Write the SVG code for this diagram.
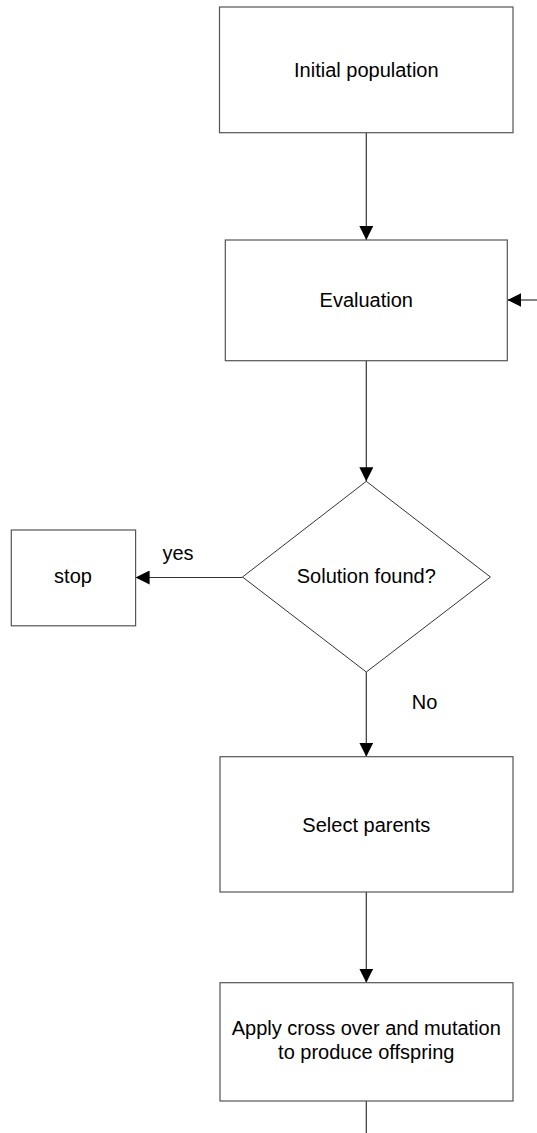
<svg xmlns="http://www.w3.org/2000/svg" width="537" height="1133" viewBox="0 0 537 1133">
<style>
.box{fill:#ffffff;stroke:#555555;stroke-width:1.2}
.dia{fill:#ffffff;stroke:#333333;stroke-width:1}
.t{font-family:"Liberation Sans",Arial,sans-serif;font-size:20px;fill:#000000;text-anchor:middle}
.c{fill:none;stroke:#333333;stroke-width:1.2}
</style>
<defs>
<marker id="ah" markerUnits="userSpaceOnUse" markerWidth="14" markerHeight="14" viewBox="0 0 13 13" refX="13" refY="6.5" orient="auto">
<path d="M0,0 L13,6.5 L0,13 Z" fill="#000000"/>
</marker>
</defs>
<rect width="537" height="1133" fill="#ffffff"/>
<g id="connectors">
<line class="c" x1="366.3" y1="132.7" x2="366.3" y2="240" marker-end="url(#ah)"/>
<line class="c" x1="537" y1="300" x2="507.3" y2="300" marker-end="url(#ah)"/>
<line class="c" x1="366.3" y1="360.7" x2="366.3" y2="481.3" marker-end="url(#ah)"/>
<line class="c" x1="242.5" y1="577.5" x2="135.6" y2="577.5" marker-end="url(#ah)"/>
<line class="c" x1="366.3" y1="672" x2="366.3" y2="756.7" marker-end="url(#ah)"/>
<line class="c" x1="366.3" y1="892" x2="366.3" y2="982.7" marker-end="url(#ah)"/>
<line class="c" x1="366.3" y1="1101" x2="366.3" y2="1133"/>
<text class="t" x="178" y="559.7">yes</text>
<text class="t" x="424.5" y="709">No</text>
</g>
<g id="initial">
<rect class="box" x="219.5" y="7" width="293.5" height="125.7"/>
<text class="t" x="366.3" y="77">Initial population</text>
</g>
<g id="evaluation">
<rect class="box" x="225.3" y="240" width="282" height="120.7"/>
<text class="t" x="366.3" y="306.7">Evaluation</text>
</g>
<g id="decision">
<polygon class="dia" points="366.3,481.3 490.4,577 366.3,672 242.5,577"/>
<text class="t" x="366.3" y="583">Solution found?</text>
</g>
<g id="stop">
<rect class="box" x="11.3" y="530" width="124.3" height="95.8"/>
<text class="t" x="73" y="583">stop</text>
</g>
<g id="select">
<rect class="box" x="220" y="756.7" width="293" height="135.3"/>
<text class="t" x="366.3" y="831.7">Select parents</text>
</g>
<g id="apply">
<rect class="box" x="220" y="982.7" width="293" height="118.3"/>
<text class="t" x="366.3" y="1035">Apply cross over and mutation</text>
<text class="t" x="366.3" y="1059.3">to produce offspring</text>
</g>
</svg>
